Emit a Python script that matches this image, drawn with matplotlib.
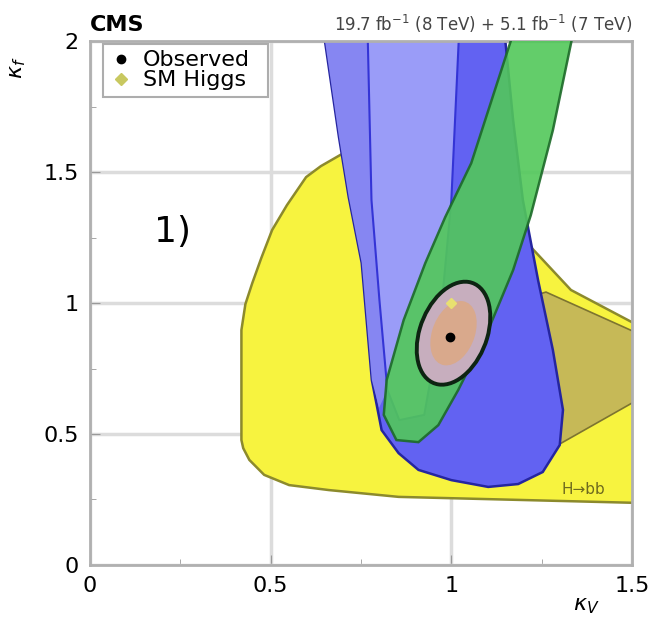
import matplotlib
matplotlib.use("Agg")
import matplotlib.pyplot as plt
from matplotlib.patches import Polygon, Ellipse
from matplotlib.lines import Line2D

# contour boundaries in (kappa_V, kappa_f)
bb_kv = [0.419, 0.419, 0.430, 0.449, 0.474, 0.504, 0.545, 0.598, 0.639, 0.702,
         0.854, 1.006, 1.143, 1.220, 1.331, 1.515, 1.515, 0.854, 0.661, 0.551,
         0.482, 0.441, 0.424]
bb_kf = [0.477, 0.897, 0.996, 1.076, 1.172, 1.279, 1.374, 1.481, 1.523, 1.573,
         1.611, 1.592, 1.469, 1.214, 1.050, 0.916, 0.237, 0.260, 0.286, 0.305,
         0.344, 0.401, 0.446]

tt_kv = [1.185, 1.262, 1.515, 1.515, 1.295, 1.240]
tt_kf = [1.011, 1.042, 0.885, 0.630, 0.458, 0.477]

ww_kv = [0.645, 0.689, 0.716, 0.752, 0.780, 0.807, 0.854, 0.909, 1.000, 1.102,
         1.185, 1.253, 1.300, 1.309, 1.281, 1.240, 1.198, 1.171, 1.146]
ww_kf = [2.05, 1.634, 1.405, 1.153, 0.706, 0.515, 0.427, 0.363, 0.324, 0.298,
         0.309, 0.355, 0.458, 0.592, 0.821, 1.088, 1.393, 1.698, 2.05]

# inner (68%) WW band and the strip between it and the outer edge
ww68_kv = [0.768, 0.779, 0.801, 0.823, 0.856, 0.925, 0.967, 1.000, 1.022]
ww68_kf = [2.05, 1.393, 1.011, 0.668, 0.553, 0.573, 0.897, 1.393, 2.05]
wwside_kv = [0.645, 0.689, 0.716, 0.752, 0.780, 0.800, 0.823, 0.801, 0.779, 0.768]
wwside_kf = [2.05, 1.634, 1.405, 1.153, 0.706, 0.600, 0.668, 1.011, 1.393, 2.05]

zz_kv = [1.176, 1.055, 0.983, 0.928, 0.868, 0.821, 0.813, 0.848, 0.909, 0.964,
         1.019, 1.102, 1.171, 1.220, 1.281, 1.340]
zz_kf = [2.05, 1.534, 1.328, 1.153, 0.935, 0.706, 0.573, 0.477, 0.469, 0.534,
         0.668, 0.897, 1.126, 1.336, 1.660, 2.05]

# combined fit: centre, widths and tilt of the 68% / 95% regions
comb_center = (1.006, 0.885)
comb95_size = (0.19, 0.40)
comb68_size = (0.12, 0.25)
comb_angle = -12

obs_kv, obs_kf = 0.997, 0.870
sm_kv, sm_kf = 1.0, 1.0

fig = plt.figure(figsize=(6.5, 6.24), dpi=100)
ax = fig.add_axes([0.1385, 0.0946, 0.8338, 0.8394])
ax.set_xlim(0, 1.5)
ax.set_ylim(0, 2)

ax.grid(True, color="#dcdcdc", lw=2.5, zorder=0)
ax.set_axisbelow(True)

ax.add_patch(Polygon(list(zip(bb_kv, bb_kf)), closed=True, fc="#f7f33f",
                     ec="#8c8a2c", lw=1.8, zorder=1))
ax.add_patch(Polygon(list(zip(tt_kv, tt_kf)), closed=True, fc="#c6b957",
                     ec="#7d7430", lw=1.2, zorder=1.5))
ax.add_patch(Polygon(list(zip(ww_kv, ww_kf)), closed=True, fc="#6262f2",
                     ec="#2525a0", lw=1.8, zorder=2))
ax.add_patch(Polygon(list(zip(wwside_kv, wwside_kf)), closed=True, fc="#8686f2",
                     ec="none", zorder=2.05))
ax.add_patch(Polygon(list(zip(ww68_kv, ww68_kf)), closed=True, fc="#9a9cf8",
                     ec="none", zorder=2.1))
ax.plot(ww68_kv, ww68_kf, color="#3434d6", lw=1.5, zorder=2.2)
ax.add_patch(Polygon(list(zip(zz_kv, zz_kf)), closed=True, fc="#52c85a",
                     ec="#1c6a28", lw=1.8, alpha=0.9, zorder=3))

ax.add_patch(Ellipse(comb_center, comb95_size[0], comb95_size[1], angle=comb_angle,
                     fc="#c7aebe", ec="#0d2412", lw=2.8, zorder=4))
ax.add_patch(Ellipse(comb_center, comb68_size[0], comb68_size[1], angle=comb_angle,
                     fc="#d9a98c", ec="none", zorder=4.1))
ax.plot(sm_kv, sm_kf, "D", color="#e8e070", ms=5, zorder=5)
ax.plot(obs_kv, obs_kf, "o", color="black", ms=6, zorder=5)

ax.text(1.365, 0.29, "H→bb", color="#6e6a1e", fontsize=11, ha="center",
        va="center", zorder=6)
ax.text(0.227, 1.27, "1)", fontsize=26, ha="center", va="center", zorder=6)

handles = [Line2D([], [], marker="o", color="black", ls="none", ms=6),
           Line2D([], [], marker="D", color="#c8c860", ls="none", ms=6)]
leg = ax.legend(handles, ["Observed", "SM Higgs"], loc="upper left",
                bbox_to_anchor=(0.024, 0.875, 0.304, 0.12), mode="expand",
                fontsize=16, frameon=True, fancybox=False, edgecolor="#999999",
                handletextpad=0.5, labelspacing=0.0, borderpad=0.3,
                handlelength=1.0, borderaxespad=0)
leg.get_frame().set_linewidth(1.5)
leg.set_zorder(0.5)

for s in ax.spines.values():
    s.set_color("#b0b0b0")
    s.set_linewidth(2)

ax.set_xticks([0, 0.5, 1, 1.5])
ax.set_xticklabels(["0", "0.5", "1", "1.5"])
ax.set_yticks([0, 0.5, 1, 1.5, 2])
ax.set_yticklabels(["0", "0.5", "1", "1.5", "2"])
ax.set_xticks([0.25, 0.75, 1.25], minor=True)
ax.set_yticks([0.25, 0.75, 1.25, 1.75], minor=True)
ax.tick_params(axis="both", which="major", labelsize=16, length=7,
               color="#999999", direction="in", pad=8)
ax.tick_params(axis="both", which="minor", length=4, color="#999999",
               direction="in")

ax.text(0.0, 1.012, "CMS", transform=ax.transAxes, fontsize=16,
        fontweight="bold", ha="left", va="bottom")
ax.text(1.0, 1.012, r"19.7 fb$^{-1}$ (8 TeV) + 5.1 fb$^{-1}$ (7 TeV)",
        transform=ax.transAxes, fontsize=12, ha="right", va="bottom",
        color="#444444")
ax.set_xlabel(r"$\kappa_V$", fontsize=16, loc="right")
ax.xaxis.set_label_coords(0.94, -0.06)
ax.set_ylabel(r"$\kappa_f$", fontsize=16, loc="top")
ax.yaxis.set_label_coords(-0.115, 0.97)

fig.savefig("out.png", dpi=100)
